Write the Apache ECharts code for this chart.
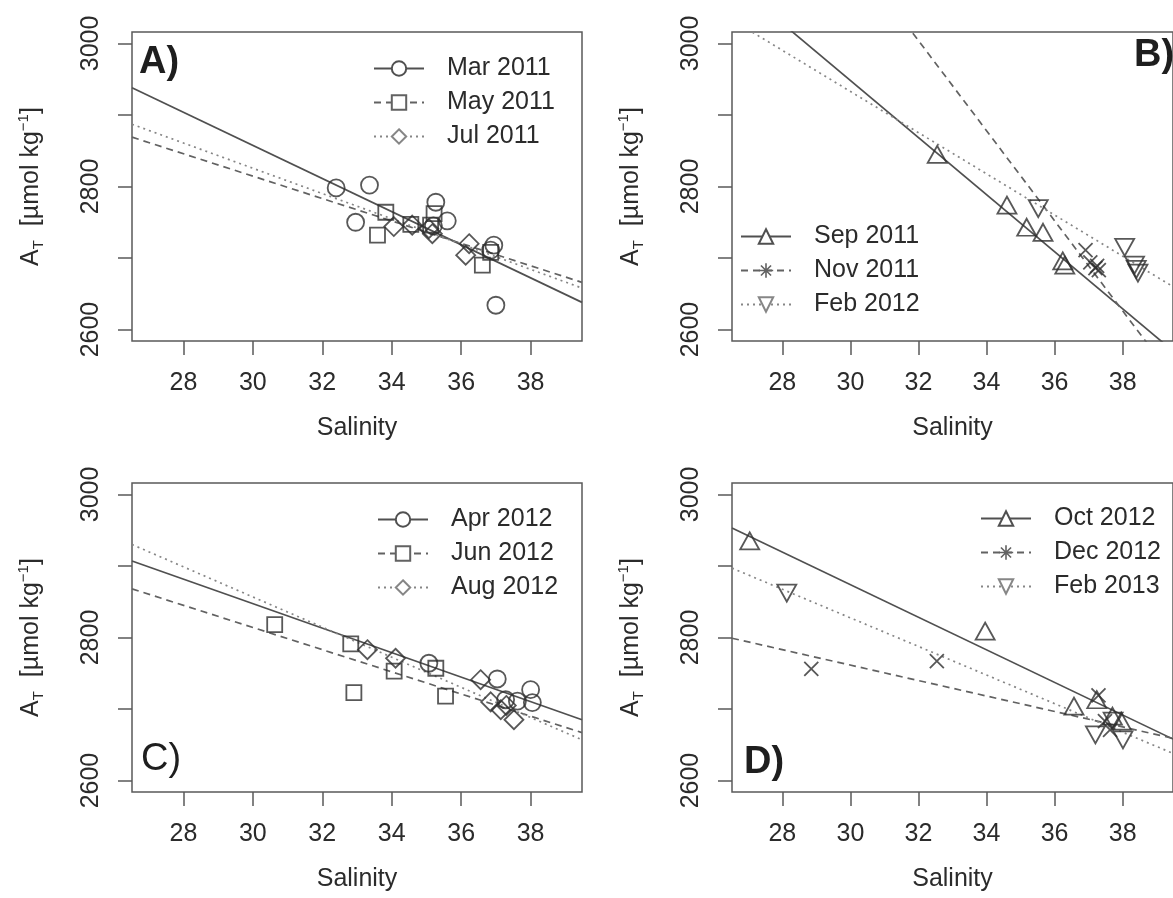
<!DOCTYPE html>
<html>
<head>
<meta charset="utf-8">
<title>Total alkalinity vs salinity</title>
<script src="https://cdn.jsdelivr.net/npm/echarts@6/dist/echarts.min.js"></script>
<style>
html, body { margin: 0; padding: 0; background: #fff; }
#chart { width: 1173px; height: 898px; }
</style>
</head>
<body>
<div id="chart"></div>
<script>
// axes (R style: every y tick, labels on every other one)
var xTicks = [28, 30, 32, 34, 36, 38];
var yTicks = [2600, 2700, 2800, 2900, 3000];
var yLabels = [2600, 2800, 3000];
var xRange = [26.52, 39.48];
var yRange = [2584, 3016];

// samples, [salinity, A_T]
var mar2011 = [[32.4, 2798], [33.36, 2802], [32.96, 2750], [35.27, 2778], [35.6, 2752], [35.2, 2745], [36.94, 2718], [36.85, 2711], [37.0, 2634]];
var may2011 = [[33.83, 2764], [33.59, 2732], [34.55, 2747], [35.22, 2762], [35.12, 2746], [36.61, 2690], [36.85, 2708]];
var jul2011 = [[34.06, 2744], [34.59, 2746], [35.07, 2741], [35.17, 2734], [36.23, 2720], [36.13, 2704]];

var sep2011 = [[32.55, 2845], [34.6, 2774], [35.18, 2743], [35.66, 2736], [36.24, 2696], [36.3, 2690]];
var nov2011 = [[36.91, 2711], [37.05, 2694], [37.2, 2686], [37.3, 2683], [37.25, 2689]];
var feb2012 = [[35.52, 2769], [38.06, 2715], [38.35, 2690], [38.4, 2684], [38.45, 2679]];

var apr2012 = [[35.07, 2764], [37.04, 2742], [38.0, 2727], [37.62, 2711], [38.05, 2709], [37.28, 2713]];
var jun2012 = [[30.63, 2818], [32.82, 2791], [32.91, 2723], [34.07, 2753], [35.27, 2757], [35.55, 2718]];
var aug2012 = [[33.3, 2783], [34.11, 2771], [36.56, 2741], [36.85, 2710], [37.14, 2699], [37.52, 2685], [37.3, 2705]];

var oct2012 = [[27.04, 2935], [33.96, 2809], [36.57, 2704], [37.24, 2713], [37.96, 2683], [37.7, 2690]];
var dec2012 = [[28.85, 2756], [32.54, 2767], [37.29, 2719], [37.63, 2671], [37.48, 2683]];
var feb2013 = [[28.13, 2862], [37.2, 2664], [38.01, 2657], [37.72, 2683]];

// regression lines, read at the left and right edge of each box
var mar2011Fit = [[26.52, 2938], [39.48, 2638]];
var may2011Fit = [[26.52, 2869], [39.48, 2666]];
var jul2011Fit = [[26.52, 2887], [39.48, 2658]];
var sep2011Fit = [[26.52, 3087], [39.48, 2570]];
var nov2011Fit = [[26.52, 3349], [39.48, 2533]];
var feb2012Fit = [[26.52, 3033], [39.48, 2660]];
var apr2012Fit = [[26.52, 2907], [39.48, 2685]];
var jun2012Fit = [[26.52, 2868], [39.48, 2667]];
var aug2012Fit = [[26.52, 2930], [39.48, 2657]];
var oct2012Fit = [[26.52, 2953], [39.48, 2658]];
var dec2012Fit = [[26.52, 2799], [39.48, 2659]];
var feb2013Fit = [[26.52, 2897], [39.48, 2638]];

var FONT = '"Liberation Sans", Arial, Helvetica, sans-serif';
var INK = '#2b2b2b';
var FRAME = '#5a5a5a';
var PT = '#2e2e2e';

var CROSS = 'path://M0,0L10,10M0,10L10,0';
var STAR = 'path://M1.5,1.5L8.5,8.5M1.5,8.5L8.5,1.5M5,0L5,10M0,5L10,5';

var marks = {
    circle:  { pt: 'circle',   size: 17,       key: 'emptyCircle' },
    square:  { pt: 'rect',     size: 15,       key: 'emptyRect' },
    diamond: { pt: 'diamond',  size: 19,       key: 'emptyDiamond' },
    up:      { pt: 'triangle', size: [19, 17], key: 'emptyTriangle' },
    down:    { pt: 'triangle', size: [19, 17], key: 'emptyTriangle', rotate: 180 },
    cross:   { pt: CROSS,      size: 14,       key: STAR, keyStroke: true }
};
var strokes = {
    solid:  { type: 'solid', color: '#505050' },
    dashed: { type: [7, 5],  color: '#626262' },
    dotted: { type: [2, 4],  color: '#868686' }
};

var panels = [
    { tag: 'A)', bold: true, box: { left: 132, top: 32 }, tagAt: { left: 139, top: 44 }, keyAt: { left: 373, top: 56 },
      sets: [
        { name: 'Mar 2011', pts: mar2011, fit: mar2011Fit, mark: 'circle',  line: 'solid' },
        { name: 'May 2011', pts: may2011, fit: may2011Fit, mark: 'square',  line: 'dashed' },
        { name: 'Jul 2011', pts: jul2011, fit: jul2011Fit, mark: 'diamond', line: 'dotted' }
      ] },
    { tag: 'B)', bold: true, box: { left: 732, top: 32 }, tagAt: { left: 1134, top: 37 }, keyAt: { left: 740, top: 224 },
      sets: [
        { name: 'Sep 2011', pts: sep2011, fit: sep2011Fit, mark: 'up',    line: 'solid' },
        { name: 'Nov 2011', pts: nov2011, fit: nov2011Fit, mark: 'cross', line: 'dashed' },
        { name: 'Feb 2012', pts: feb2012, fit: feb2012Fit, mark: 'down',  line: 'dotted' }
      ] },
    { tag: 'C)', bold: false, box: { left: 132, top: 483 }, tagAt: { left: 141, top: 741 }, keyAt: { left: 377, top: 507 },
      sets: [
        { name: 'Apr 2012', pts: apr2012, fit: apr2012Fit, mark: 'circle',  line: 'solid' },
        { name: 'Jun 2012', pts: jun2012, fit: jun2012Fit, mark: 'square',  line: 'dashed' },
        { name: 'Aug 2012', pts: aug2012, fit: aug2012Fit, mark: 'diamond', line: 'dotted' }
      ] },
    { tag: 'D)', bold: true, box: { left: 732, top: 483 }, tagAt: { left: 744, top: 744 }, keyAt: { left: 980, top: 506 },
      sets: [
        { name: 'Oct 2012', pts: oct2012, fit: oct2012Fit, mark: 'up',    line: 'solid' },
        { name: 'Dec 2012', pts: dec2012, fit: dec2012Fit, mark: 'cross', line: 'dashed' },
        { name: 'Feb 2013', pts: feb2013, fit: feb2013Fit, mark: 'down',  line: 'dotted' }
      ] }
];

var grids = [], xAxes = [], yAxes = [], titles = [], legends = [], series = [];

panels.forEach(function (p, i) {
    grids.push({
        left: p.box.left, top: p.box.top, width: 450, height: 309,
        show: true, borderColor: FRAME, borderWidth: 1.5, backgroundColor: 'transparent'
    });
    xAxes.push({
        gridIndex: i, type: 'value', min: xRange[0], max: xRange[1],
        axisLine: { show: false },
        axisTick: { show: true, length: 14, customValues: xTicks, lineStyle: { color: FRAME, width: 1.5 } },
        axisLabel: { customValues: xTicks, margin: 30, fontSize: 25, color: INK, fontFamily: FONT },
        splitLine: { show: false },
        name: 'Salinity', nameLocation: 'middle', nameGap: 75,
        nameTextStyle: { fontSize: 25, color: INK, fontFamily: FONT }
    });
    yAxes.push({
        gridIndex: i, type: 'value', min: yRange[0], max: yRange[1],
        axisLine: { show: false },
        axisTick: { show: true, length: 14, customValues: yTicks, lineStyle: { color: FRAME, width: 1.5 } },
        axisLabel: {
            customValues: yLabels, rotate: 90, margin: 28, fontSize: 25, color: INK, fontFamily: FONT,
            formatter: function (v) { return String(v); }
        },
        splitLine: { show: false },
        name: '{a|A}{s|T}{a|  [µmol kg}{p|−1}{a|]}', nameLocation: 'middle', nameRotate: 90, nameGap: 86,
        nameTextStyle: {
            color: INK, fontFamily: FONT, fontSize: 25,
            rich: {
                a: { fontSize: 25, color: INK, fontFamily: FONT, lineHeight: 30 },
                s: { fontSize: 15, color: INK, fontFamily: FONT, verticalAlign: 'bottom', lineHeight: 26 },
                p: { fontSize: 15, color: INK, fontFamily: FONT, verticalAlign: 'top', lineHeight: 16 }
            }
        }
    });
    titles.push({
        text: p.tag, left: p.tagAt.left, top: p.tagAt.top, padding: 0,
        textStyle: { fontSize: 38, fontWeight: p.bold ? 'bold' : 'normal', color: '#1e1e1e', fontFamily: FONT }
    });
    legends.push({
        orient: 'vertical', left: p.keyAt.left, top: p.keyAt.top, padding: 0,
        itemWidth: 50, itemHeight: 18, itemGap: 9, selectedMode: false,
        textStyle: { fontSize: 25, color: INK, fontFamily: FONT, padding: [0, 0, 0, 18] },
        data: p.sets.map(function (s) {
            var m = marks[s.mark];
            if (!m.keyStroke) return s.name;
            return { name: s.name, itemStyle: { color: 'rgba(0,0,0,0)', borderColor: strokes[s.line].color, borderWidth: 1.6 } };
        })
    });
    p.sets.forEach(function (s) {
        var m = marks[s.mark], st = strokes[s.line];
        series.push({
            type: 'line', name: s.name, xAxisIndex: i, yAxisIndex: i,
            data: s.fit, showSymbol: false, symbol: m.key, symbolRotate: m.rotate || 0,
            lineStyle: { type: st.type, color: st.color, width: 1.7 },
            itemStyle: { color: st.color },
            clip: true, silent: true, z: 2
        });
        series.push({
            type: 'scatter', name: s.name + ' samples', xAxisIndex: i, yAxisIndex: i,
            data: s.pts, symbol: m.pt, symbolSize: m.size, symbolRotate: m.rotate || 0,
            itemStyle: { color: 'rgba(0,0,0,0)', borderColor: PT, borderWidth: 1.8 },
            silent: true, z: 3
        });
    });
});

var chart = echarts.init(document.getElementById('chart'));
chart.setOption({
    animation: false,
    backgroundColor: '#fff',
    textStyle: { fontFamily: FONT },
    title: titles,
    legend: legends,
    grid: grids,
    xAxis: xAxes,
    yAxis: yAxes,
    series: series
});
</script>
</body>
</html>
